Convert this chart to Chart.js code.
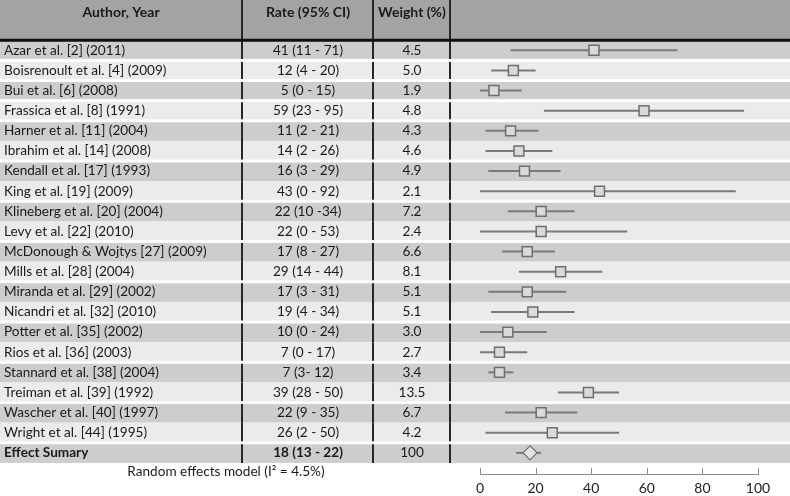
<!DOCTYPE html>
<html>
<head>
<meta charset="utf-8">
<script src="https://cdn.jsdelivr.net/npm/chart.js@4"></script>
<style>
  html, body { margin: 0; padding: 0; background: #fff; }
  canvas { display: block; }
</style>
</head>
<body>
<canvas id="forest" width="790" height="496"></canvas>
<script>
// study data
const authors = [
    "Azar et al. [2] (2011)",
    "Boisrenoult et al. [4] (2009)",
    "Bui et al. [6] (2008)",
    "Frassica et al. [8] (1991)",
    "Harner et al. [11] (2004)",
    "Ibrahim et al. [14] (2008)",
    "Kendall et al. [17] (1993)",
    "King et al. [19] (2009)",
    "Klineberg et al. [20] (2004)",
    "Levy et al. [22] (2010)",
    "McDonough & Wojtys [27] (2009)",
    "Mills et al. [28] (2004)",
    "Miranda et al. [29] (2002)",
    "Nicandri et al. [32] (2010)",
    "Potter et al. [35] (2002)",
    "Rios et al. [36] (2003)",
    "Stannard et al. [38] (2004)",
    "Treiman et al. [39] (1992)",
    "Wascher et al. [40] (1997)",
    "Wright et al. [44] (1995)"
];
const rates = [41, 12, 5, 59, 11, 14, 16, 43, 22, 22, 17, 29, 17, 19, 10, 7, 7, 39, 22, 26];
const lower = [11, 4, 0, 23, 2, 2, 3, 0, 10, 0, 8, 14, 3, 4, 0, 0, 3, 28, 9, 2];
const upper = [71, 20, 15, 95, 21, 26, 29, 92, 34, 53, 27, 44, 31, 34, 24, 17, 12, 50, 35, 50];
const rateLabels = [
    "41 (11 - 71)", "12 (4 - 20)", "5 (0 - 15)", "59 (23 - 95)", "11 (2 - 21)",
    "14 (2 - 26)", "16 (3 - 29)", "43 (0 - 92)", "22 (10 -34)", "22 (0 - 53)",
    "17 (8 - 27)", "29 (14 - 44)", "17 (3 - 31)", "19 (4 - 34)", "10 (0 - 24)",
    "7 (0 - 17)", "7 (3- 12)", "39 (28 - 50)", "22 (9 - 35)", "26 (2 - 50)"
];
const weights = ["4.5", "5.0", "1.9", "4.8", "4.3", "4.6", "4.9", "2.1", "7.2", "2.4",
    "6.6", "8.1", "5.1", "5.1", "3.0", "2.7", "3.4", "13.5", "6.7", "4.2"];

const summaryLabel = "Effect Sumary";
const summaryRate = 18;
const summaryLower = 13;
const summaryUpper = 22;
const summaryRateLabel = "18 (13 - 22)";
const summaryWeight = "100";
const modelNote = "Random effects model (I\u00B2 = 4.5%)";

const headers = ["Author, Year", "Rate (95% CI)", "Weight (%)"];
const xTicks = [0, 20, 40, 60, 80, 100];

const FONT = "Lato, 'Open Sans', sans-serif";
const nRows = authors.length + 1; // studies + summary
// rows followed by a thin white gap
const gapAfter = new Set([0, 1, 2, 3, 5, 7, 9, 11, 13, 15, 17, 19]);
const colLines = [242, 373, 450];

// table background, text and column rules
const tablePlugin = {
    id: "table",
    beforeDatasetsDraw(chart) {
        const ctx = chart.ctx;
        const y = chart.scales.y;
        const W = chart.width;
        ctx.save();

        // header
        const hTop = y.getPixelForValue(-2.5);
        const hBot = y.getPixelForValue(-0.5);
        ctx.fillStyle = "#a3a3a3";
        ctx.fillRect(0, hTop, W, hBot - hTop);

        // row bands
        const segs = [[hTop, hBot]];
        for (let i = 0; i < nRows; i++) {
            let top = y.getPixelForValue(i - 0.5);
            let bot = y.getPixelForValue(i + 0.5);
            if (i > 0 && gapAfter.has(i - 1)) top += 1.5;
            if (gapAfter.has(i)) bot -= 1.5;
            ctx.fillStyle = i % 2 === 0 ? "#cdcdcd" : "#ebebeb";
            ctx.fillRect(0, top, W, bot - top);
            segs.push([top, bot]);
        }

        // column rules
        ctx.strokeStyle = "#262626";
        ctx.lineWidth = 2;
        colLines.forEach((cx) => {
            segs.forEach(([t, b]) => {
                ctx.beginPath();
                ctx.moveTo(cx, t);
                ctx.lineTo(cx, b);
                ctx.stroke();
            });
        });

        // thick header rule
        ctx.fillStyle = "#111";
        ctx.fillRect(0, hBot - 1.5, W, 3);

        // header text
        ctx.fillStyle = "#1a1a1a";
        ctx.textBaseline = "middle";
        ctx.textAlign = "center";
        ctx.font = "bold 14px " + FONT;
        const hy = hTop + 12;
        ctx.fillText(headers[0], 121, hy);
        ctx.fillText(headers[1], 308, hy);
        ctx.fillText(headers[2], 412, hy);

        // study rows
        ctx.font = "13.6px " + FONT;
        authors.forEach((name, i) => {
            const ry = y.getPixelForValue(i);
            ctx.textAlign = "left";
            ctx.fillText(name, 4, ry);
            ctx.textAlign = "center";
            ctx.fillText(rateLabels[i], 308, ry);
            ctx.fillText(weights[i], 412, ry);
        });

        // summary row
        const sy = y.getPixelForValue(authors.length);
        ctx.font = "bold 13.6px " + FONT;
        ctx.textAlign = "left";
        ctx.fillText(summaryLabel, 4, sy);
        ctx.textAlign = "center";
        ctx.fillText(summaryRateLabel, 308, sy);
        ctx.font = "13.6px " + FONT;
        ctx.fillText(summaryWeight, 412, sy);

        // model note
        ctx.fillText(modelNote, 226, y.getPixelForValue(authors.length + 0.95));
        ctx.restore();
    },
    afterDraw(chart) {
        // upward tick marks on the x axis
        const ctx = chart.ctx;
        const x = chart.scales.x;
        const base = chart.chartArea.bottom;
        ctx.save();
        ctx.strokeStyle = "#8c8c8c";
        ctx.lineWidth = 1;
        xTicks.forEach((v) => {
            const px = Math.round(x.getPixelForValue(v)) + 0.5;
            ctx.beginPath();
            ctx.moveTo(px, base);
            ctx.lineTo(px, base - 6);
            ctx.stroke();
        });
        ctx.restore();
    }
};

const ciDatasets = authors.map((a, i) => ({
    type: "line",
    data: [{ x: lower[i], y: i }, { x: upper[i], y: i }],
    borderColor: "#7a7a7a",
    borderWidth: 2,
    pointRadius: 0,
    order: 2
}));
ciDatasets.push({
    type: "line",
    data: [{ x: summaryLower, y: authors.length }, { x: summaryUpper, y: authors.length }],
    borderColor: "#7a7a7a",
    borderWidth: 2,
    pointRadius: 0,
    order: 2
});

new Chart(document.getElementById("forest"), {
    type: "scatter",
    data: {
        datasets: [
            ...ciDatasets,
            {
                data: rates.map((r, i) => ({ x: r, y: i })),
                pointStyle: "rect",
                pointRadius: 7,
                backgroundColor: "#dadada",
                borderColor: "#6e6e6e",
                borderWidth: 1.5,
                order: 1
            },
            {
                data: [{ x: summaryRate, y: authors.length }],
                pointStyle: "rectRot",
                pointRadius: 7,
                backgroundColor: "#e4e4e4",
                borderColor: "#6e6e6e",
                borderWidth: 1.2,
                order: 1
            }
        ]
    },
    options: {
        responsive: false,
        animation: false,
        layout: {
            autoPadding: false,
            padding: { left: 480, right: 32, top: 0, bottom: 0 }
        },
        plugins: {
            legend: { display: false },
            tooltip: { enabled: false }
        },
        scales: {
            x: {
                type: "linear",
                min: 0,
                max: 100,
                afterBuildTicks: (axis) => {
                    axis.ticks = xTicks.map((v) => ({ value: v }));
                },
                afterFit: (axis) => {
                    axis.height = 22;
                },
                grid: { drawOnChartArea: false, drawTicks: false },
                border: { display: true, color: "#8c8c8c", width: 1 },
                ticks: {
                    padding: 6,
                    color: "#222",
                    font: { family: FONT, size: 14 }
                }
            },
            y: {
                type: "linear",
                display: false,
                reverse: true,
                min: -2.5,
                max: 21.05
            }
        }
    },
    plugins: [tablePlugin]
});
</script>
</body>
</html>
